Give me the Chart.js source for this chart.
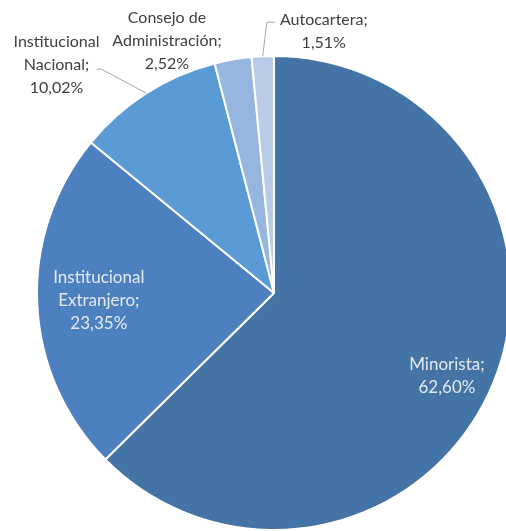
<!DOCTYPE html>
<html>
<head>
<meta charset="utf-8">
<script src="https://cdn.jsdelivr.net/npm/chart.js@4"></script>
<style>
  html, body { margin: 0; padding: 0; background: #fff; overflow: hidden; }
  #wrap { width: 548px; height: 531px; position: relative; }
</style>
</head>
<body>
<div id="wrap"><canvas id="pieChart"></canvas></div>
<script>
// categories (split in lines like the original labels)
const categories = [
  ['Minorista'],
  ['Institucional', 'Extranjero'],
  ['Institucional', 'Nacional'],
  ['Consejo de', 'Administración'],
  ['Autocartera']
];
const shares = [62.60, 23.35, 10.02, 2.52, 1.51];
const colors = ['#4473A5', '#4C80BE', '#5B9BD5', '#97B6DF', '#B8CCE8'];

// where every label goes (in = inside the slice, out = outside with offset from edge)
const labelPos = [
  { at: 'in', f: 0.8, dx: -2, dy: 10, size: 17, color: '#E2EAF3' },
  { at: 'in', f: 0.74, dx: 0, dy: 0, size: 17, color: '#E2EAF3' },
  { at: 'out', dx: -90, dy: -28, size: 16, leader: [[-45, -24], [-50, -24]] },
  { at: 'out', dx: -66, dy: -19, size: 16 },
  { at: 'out', dx: 61, dy: -25, size: 16, leader: [[4, -34], [12, -34]] }
];

const fmt = v => v.toFixed(2).replace('.', ',') + '%';

const pieLabels = {
  id: 'pieLabels',
  afterDatasetsDraw(chart) {
    const ctx = chart.ctx;
    const meta = chart.getDatasetMeta(0);
    ctx.save();
    ctx.textAlign = 'center';
    ctx.textBaseline = 'middle';
    meta.data.forEach((arc, i) => {
      const p = labelPos[i];
      const mid = (arc.startAngle + arc.endAngle) / 2;
      const lines = categories[i].slice();
      lines[lines.length - 1] += ';';
      lines.push(fmt(shares[i]));
      ctx.font = p.size + 'px Lato, "Open Sans", sans-serif';
      let cx, cy;
      if (p.at === 'in') {
        cx = arc.x + Math.cos(mid) * arc.outerRadius * p.f + p.dx;
        cy = arc.y + Math.sin(mid) * arc.outerRadius * p.f + p.dy;
        ctx.fillStyle = p.color;
      } else {
        const ex = arc.x + Math.cos(mid) * arc.outerRadius;
        const ey = arc.y + Math.sin(mid) * arc.outerRadius;
        cx = ex + p.dx;
        cy = ey + p.dy;
        if (p.leader) {
          ctx.strokeStyle = '#A6A6A6';
          ctx.lineWidth = 1;
          ctx.beginPath();
          ctx.moveTo(ex, ey);
          p.leader.forEach(pt => ctx.lineTo(ex + pt[0], ey + pt[1]));
          ctx.stroke();
        }
        ctx.fillStyle = '#404040';
      }
      const lh = 23;
      lines.forEach((t, k) => {
        ctx.fillText(t, cx, cy + (k - (lines.length - 1) / 2) * lh);
      });
    });
    ctx.restore();
  }
};

const ctx = document.getElementById('pieChart').getContext('2d');
new Chart(ctx, {
  type: 'pie',
  data: {
    labels: categories.map(c => c.join(' ')),
    datasets: [{
      data: shares,
      backgroundColor: colors,
      borderColor: '#FFFFFF',
      borderWidth: 2
    }]
  },
  options: {
    responsive: true,
    maintainAspectRatio: false,
    animation: false,
    layout: { padding: { top: 55, bottom: 0, left: 0, right: 0 } },
    plugins: {
      legend: { display: false },
      tooltip: { enabled: false }
    }
  },
  plugins: [pieLabels]
});
</script>
</body>
</html>
